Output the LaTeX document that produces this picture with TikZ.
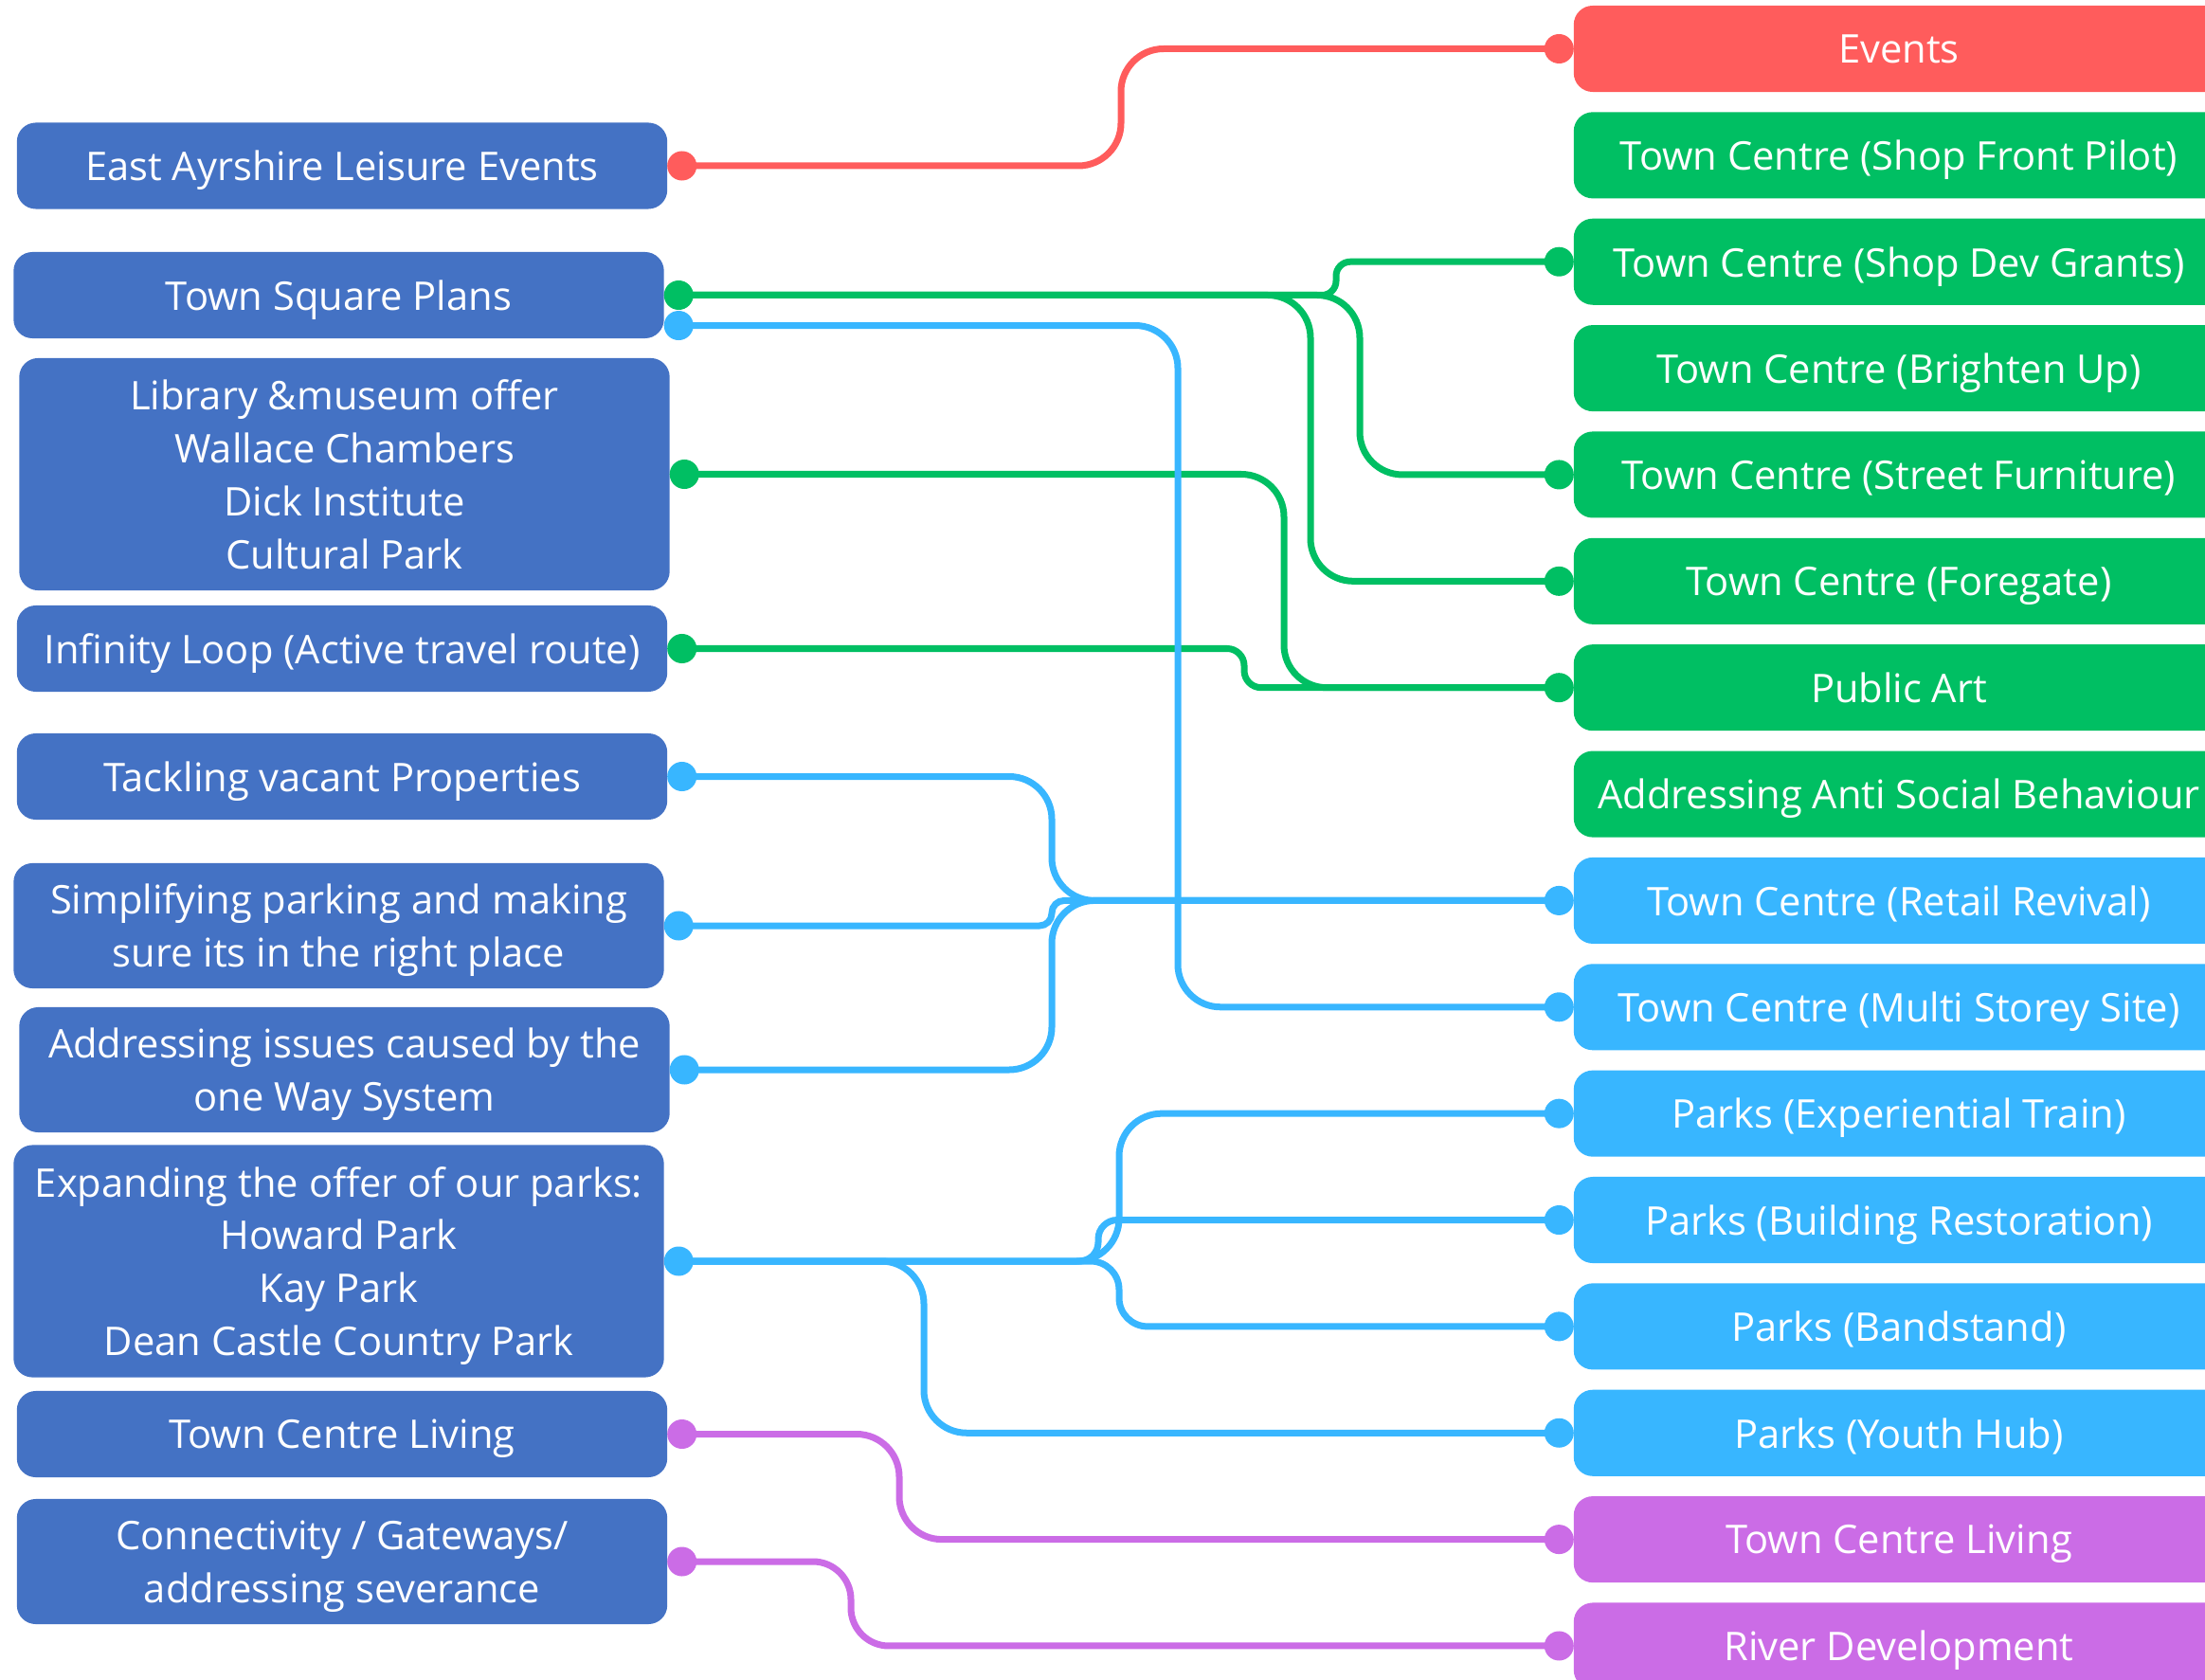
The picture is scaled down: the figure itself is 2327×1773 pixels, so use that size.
\documentclass[tikz,border=0pt]{standalone}
\usepackage{fontspec}
\setmainfont{Open Sans}
\usetikzlibrary{positioning}

\definecolor{boxblue}{HTML}{4472C4}
\definecolor{evred}{HTML}{FF5C5C}
\definecolor{tcgreen}{HTML}{00BF63}
\definecolor{skyblue}{HTML}{38B6FF}
\definecolor{lilac}{HTML}{CB6CE6}

\begin{document}
\begin{tikzpicture}[x=0.01cm, y=-0.01cm]
  \tikzset{BoxStyle/.style = {shape          = rectangle,
                              rounded corners = 0.2cm,
                              text           = white,
                              align          = center,
                              inner sep      = 0pt,
                              outer sep      = 0pt,
                              text depth     = 0pt,
                              minimum width  = 6.86cm,
                              minimum height = 0.91cm,
                              font           = \fontsize{11.85}{15.9}\selectfont},
           LeftBox/.style  = {BoxStyle, fill = boxblue},
           RightBox/.style = {BoxStyle, fill = #1},
           DotStyle/.style = {shape = circle, fill = #1, inner sep = 0pt, outer sep = 0pt, minimum size = 0.31cm},
           LinkStyle/.style = {draw = #1, line width = 0.07cm, rounded corners = 0.45cm}}
  \useasboundingbox (0,0) rectangle (2327,1773);
  \clip (0,0) rectangle (2327,1773);
	%%% COLONNE DE GAUCHE %%%
	\node[LeftBox](l1) at (361,175) {East Ayrshire Leisure Events};
	\node[LeftBox](l2) at (357.5,311.5) {Town Square Plans};
	\node[LeftBox, minimum height=2.45cm](l3) at (363.5,500.5) {Library \&museum offer\\Wallace Chambers\\Dick Institute\\Cultural Park};
	\node[LeftBox](l4) at (361,684.5) {Infinity Loop (Active travel route)};
	\node[LeftBox](l5) at (361,819.5) {Tackling vacant Properties};
	\node[LeftBox, minimum height=1.32cm](l6) at (357.5,977) {Simplifying parking and making\\sure its in the right place};
	\node[LeftBox, minimum height=1.32cm](l7) at (363.5,1129) {Addressing issues caused by the\\one Way System};
	\node[LeftBox, minimum height=2.45cm](l8) at (357.5,1331) {Expanding the offer of our parks:\\Howard Park\\Kay Park\\Dean Castle Country Park};
	\node[LeftBox](l9) at (361,1513.5) {Town Centre Living};
	\node[LeftBox, minimum height=1.32cm](l10) at (361,1648) {Connectivity / Gateways/\\addressing severance};
	%
	\node[DotStyle=evred, right=0pt of l1](l1d){};
	\node[DotStyle=tcgreen, right=0pt of l2](l2g){};
	\node[DotStyle=skyblue, right=0pt of l2.east, yshift=-0.32cm](l2b){};
	\node[DotStyle=tcgreen, right=0pt of l3](l3d){};
	\node[DotStyle=tcgreen, right=0pt of l4](l4d){};
	\node[DotStyle=skyblue, right=0pt of l5](l5d){};
	\node[DotStyle=skyblue, right=0pt of l6](l6d){};
	\node[DotStyle=skyblue, right=0pt of l7](l7d){};
	\node[DotStyle=skyblue, right=0pt of l8](l8d){};
	\node[DotStyle=lilac, right=0pt of l9](l9d){};
	\node[DotStyle=lilac, right=0pt of l10](l10d){};
	%%% COLONNE DE DROITE %%%
	\tikzset{node distance = 0.213cm}
	\node[RightBox=evred](r1) at (2004,51.5) {Events};
	\node[RightBox=tcgreen, below=of r1](r2) {Town Centre (Shop Front Pilot)};
	\node[RightBox=tcgreen, below=of r2](r3) {Town Centre (Shop Dev Grants)};
	\node[RightBox=tcgreen, below=of r3](r4) {Town Centre (Brighten Up)};
	\node[RightBox=tcgreen, below=of r4](r5) {Town Centre (Street Furniture)};
	\node[RightBox=tcgreen, below=of r5](r6) {Town Centre (Foregate)};
	\node[RightBox=tcgreen, below=of r6](r7) {Public Art};
	\node[RightBox=tcgreen, below=of r7](r8) {Addressing Anti Social Behaviour};
	\node[RightBox=skyblue, below=of r8](r9) {Town Centre (Retail Revival)};
	\node[RightBox=skyblue, below=of r9](r10) {Town Centre (Multi Storey Site)};
	\node[RightBox=skyblue, below=of r10](r11) {Parks (Experiential Train)};
	\node[RightBox=skyblue, below=of r11](r12) {Parks (Building Restoration)};
	\node[RightBox=skyblue, below=of r12](r13) {Parks (Bandstand)};
	\node[RightBox=skyblue, below=of r13](r14) {Parks (Youth Hub)};
	\node[RightBox=lilac, below=of r14](r15) {Town Centre Living};
	\node[RightBox=lilac, below=of r15](r16) {River Development};
	%
	\node[DotStyle=evred, left=0pt of r1](r1d){};
	\node[DotStyle=tcgreen, left=0pt of r3](r3d){};
	\node[DotStyle=tcgreen, left=0pt of r5](r5d){};
	\node[DotStyle=tcgreen, left=0pt of r6](r6d){};
	\node[DotStyle=tcgreen, left=0pt of r7](r7d){};
	\node[DotStyle=skyblue, left=0pt of r9](r9d){};
	\node[DotStyle=skyblue, left=0pt of r10](r10d){};
	\node[DotStyle=skyblue, left=0pt of r11](r11d){};
	\node[DotStyle=skyblue, left=0pt of r12](r12d){};
	\node[DotStyle=skyblue, left=0pt of r13](r13d){};
	\node[DotStyle=skyblue, left=0pt of r14](r14d){};
	\node[DotStyle=lilac, left=0pt of r15](r15d){};
	\node[DotStyle=lilac, left=0pt of r16](r16d){};
	%%% COULOIRS VERTICAUX %%%
	\coordinate (vr) at (1183,0);
	\coordinate (vg1) at (1410,0);
	\coordinate (vg2) at (1435,0);
	\coordinate (vg3) at (1383,0);
	\coordinate (vg4) at (1355,0);
	\coordinate (vg5) at (1313,0);
	\coordinate (vb1) at (1110,0);
	\coordinate (vb2) at (1243,0);
	\coordinate (vb3) at (1181,0);
	\coordinate (vb4) at (1159,0);
	\coordinate (vb5) at (975,0);
	\coordinate (vp1) at (949,0);
	\coordinate (vp2) at (898,0);
	%%% LIENS %%%
	\draw[LinkStyle=evred](l1d.center) -- (l1d.center -| vr) -- (r1d.center -| vr) -- (r1d.center);
	%
	\draw[LinkStyle=tcgreen, rounded corners=0.15cm](l2g.center) -- (l2g.center -| vg1) -- (r3d.center -| vg1) -- (r3d.center);
	\draw[LinkStyle=tcgreen](l2g.center) -- (l2g.center -| vg2) -- (r5d.center -| vg2) -- (r5d.center);
	\draw[LinkStyle=tcgreen](l2g.center) -- (l2g.center -| vg3) -- (r6d.center -| vg3) -- (r6d.center);
	\draw[LinkStyle=tcgreen](l3d.center) -- (l3d.center -| vg4) -- (r7d.center -| vg4) -- (r7d.center);
	\draw[LinkStyle=tcgreen, rounded corners=0.18cm](l4d.center) -- (l4d.center -| vg5) -- (r7d.center -| vg5) -- (r7d.center);
	%
	\draw[LinkStyle=skyblue](l5d.center) -- (l5d.center -| vb1) -- (r9d.center -| vb1) -- (r9d.center);
	\draw[LinkStyle=skyblue, rounded corners=0.13cm](l6d.center) -- (l6d.center -| vb1) -- (r9d.center -| vb1) -- (r9d.center);
	\draw[LinkStyle=skyblue](l7d.center) -- (l7d.center -| vb1) -- (r9d.center -| vb1) -- (r9d.center);
	\draw[LinkStyle=skyblue](l2b.center) -- (l2b.center -| vb2) -- (r10d.center -| vb2) -- (r10d.center);
	\draw[LinkStyle=skyblue](l8d.center) -- (l8d.center -| vb3) -- (r11d.center -| vb3) -- (r11d.center);
	\draw[LinkStyle=skyblue, rounded corners=0.2cm](l8d.center) -- (l8d.center -| vb4) -- (r12d.center -| vb4) -- (r12d.center);
	\draw[LinkStyle=skyblue, rounded corners=0.3cm](l8d.center) -- (l8d.center -| vb3) -- (r13d.center -| vb3) -- (r13d.center);
	\draw[LinkStyle=skyblue](l8d.center) -- (l8d.center -| vb5) -- (r14d.center -| vb5) -- (r14d.center);
	%
	\draw[LinkStyle=lilac](l9d.center) -- (l9d.center -| vp1) -- (r15d.center -| vp1) -- (r15d.center);
	\draw[LinkStyle=lilac, rounded corners=0.4cm](l10d.center) -- (l10d.center -| vp2) -- (r16d.center -| vp2) -- (r16d.center);
\end{tikzpicture}
\end{document}
